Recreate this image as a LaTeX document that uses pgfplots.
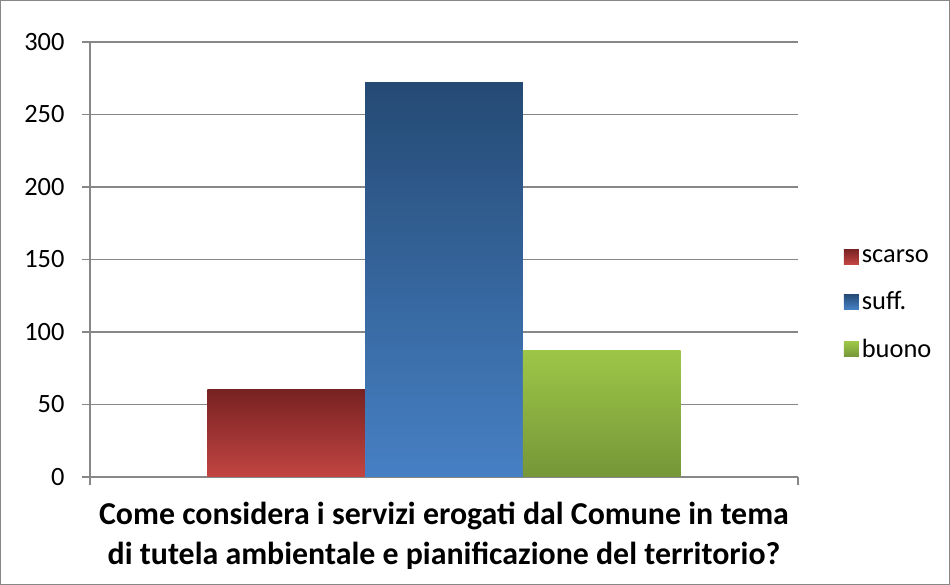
\documentclass[border=0pt]{standalone}
\usepackage{pgfplots}
\pgfplotsset{compat=1.18}
\usepackage{fontspec}
\setmainfont{Carlito}
\definecolor{axgray}{HTML}{878787}
\definecolor{rtop}{HTML}{782222}
\definecolor{rbot}{HTML}{C24542}
\definecolor{btop}{HTML}{254A74}
\definecolor{bbot}{HTML}{4680C4}
\definecolor{gtop}{HTML}{9DC647}
\definecolor{gbot}{HTML}{769638}
\begin{document}
\begin{tikzpicture}[x=1bp,y=1bp]
\path[use as bounding box] (0,0) rectangle (950,585);
\draw[color=axgray, line width=1.2bp] (0.6,0.6) rectangle (949.4,584.4);
\begin{axis}[
  at={(90bp,108bp)}, anchor=south west,
  scale only axis, width=708bp, height=435bp,
  xmin=-2.245, xmax=2.245, ymin=0, ymax=300,
  ytick={0,50,...,300},
  xtick={-2.245,2.245}, xticklabels={},
  axis x line*=bottom, axis y line*=left,
  axis line style={color=axgray, line width=1.3bp},
  tick style={color=axgray, line width=1.3bp},
  tick align=outside, major tick length=8bp,
  ymajorgrids, grid style={color=axgray, line width=1.3bp},
  /pgf/number format/assume math mode=true,
  yticklabel style={font=\fontsize{26.5}{30}\selectfont, color=black, xshift=-14bp},
  legend style={draw=none, at={(1.0645,0.397)}, anchor=west, inner sep=0pt,
    font=\fontsize{26.5}{30}\selectfont, row sep=22bp,
    nodes={inner sep=3bp}},
  legend cell align=left,
  legend image code/.code={\path[#1,draw=none] (-4bp,-7.5bp) rectangle (11bp,7.5bp);},
]
\addplot[ybar, bar width=1, bar shift=0, draw=none, top color=rtop, bottom color=rbot] coordinates {(-1,60)};
\addlegendentry{scarso}
\addplot[ybar, bar width=1, bar shift=0, draw=none, top color=btop, bottom color=bbot] coordinates {(0,272)};
\addlegendentry{suff.}
\addplot[ybar, bar width=1, bar shift=0, draw=none, top color=gtop, bottom color=gbot] coordinates {(1,87)};
\addlegendentry{buono}
\end{axis}
\node[font=\bfseries\fontsize{32}{36}\selectfont, align=center] at (444,49) {Come considera i servizi erogati dal Comune in tema\\[4bp]di tutela ambientale e pianificazione del territorio?};
\end{tikzpicture}
\end{document}
